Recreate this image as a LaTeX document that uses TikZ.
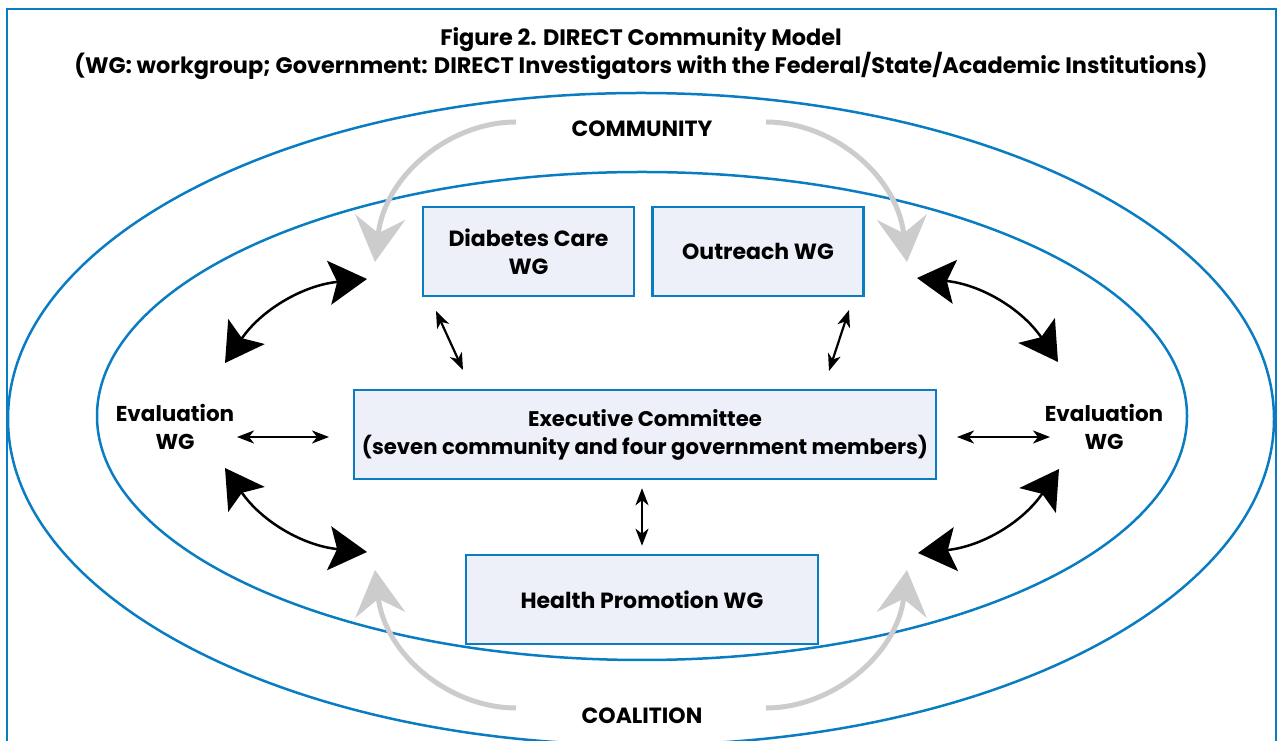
\documentclass[tikz,border=0pt]{standalone}
\usepackage{fontspec}
\setsansfont{Poppins}
\usetikzlibrary{positioning}
\usetikzlibrary{arrows.meta}
\definecolor{ringblue}{RGB}{10,125,194}
\definecolor{wgfill}{RGB}{237,240,248}
\definecolor{flowgray}{RGB}{204,204,204}
\tikzset{every picture/.style={/utils/exec={\sffamily\bfseries}},
  x=1pt, y=1pt,
  every node/.style={align=center,
    font=\fontsize{22}{28}\selectfont},
  ring/.style={draw=ringblue, line width=2.5pt},
  wgbox/.style={ % boxes of the workgroups
    draw=ringblue, line width=2.5pt, fill=wgfill,
    minimum height=89pt, inner sep=0pt},
  link/.style={ % short two-way arrows
    {Stealth[length=17pt,width=13pt,inset=5pt]}-{Stealth[length=17pt,width=13pt,inset=5pt]},
    line width=2.2pt},
  swing/.style={ % big curved two-way arrows
    {Stealth[length=38pt,width=44pt,inset=8pt]}-{Stealth[length=38pt,width=44pt,inset=8pt]},
    line width=2.5pt},
  flow/.style={ % grey arrows coming from community and coalition
    draw=flowgray, line width=5pt,
    -{Stealth[length=45pt,width=50pt,inset=16pt]}}}

\begin{document}
\begin{tikzpicture}
  \useasboundingbox (0,0) rectangle (1278,741);
  \clip (0,0) rectangle (1278,741);

  \draw[ring] (7,732) rectangle (1276,-30);
  \draw[ring] (641,322) ellipse [x radius=633, y radius=326];
  \draw[ring] (642,325) ellipse [x radius=545, y radius=244];

  \node [font=\fontsize{22.4}{28}\selectfont] (title) at (641,687) {Figure 2. DIRECT Community Model\\
    (WG: workgroup; Government: DIRECT Investigators with the Federal/State/Academic Institutions)};

  \node (community) at (642,612) {COMMUNITY};
  \node (coalition) at (642,25) {COALITION};

  \node [wgbox, minimum width=211pt] (dcare) at (528.5,489.5) {Diabetes Care\\WG};
  \node [wgbox, minimum width=211pt, right=16pt of dcare] (outreach) {Outreach WG};
  \node [wgbox, minimum width=582pt, font=\fontsize{21.2}{28}\selectfont] (exec) at (645,306.5) {Executive Committee\\
    (seven community and four government members)};
  \node [wgbox, minimum width=352pt] (health) at (642,141.5) {Health Promotion WG};

  \node [font=\fontsize{21.5}{28}\selectfont] (evalL) at (175,314) {Evaluation\\WG};
  \node [font=\fontsize{21.5}{28}\selectfont] (evalR) at (1104,314) {Evaluation\\WG};

  % ends of the short arrows
  \coordinate (lnkL-a) at (237,304);
  \coordinate (lnkL-b) at (329,304);
  \coordinate (lnkR-a) at (957,304);
  \coordinate (lnkR-b) at (1050,304);
  \coordinate (lnkD-a) at (436,430);
  \coordinate (lnkD-b) at (463,371);
  \coordinate (lnkO-a) at (849,431);
  \coordinate (lnkO-b) at (829,370);

  \draw[link] (lnkL-a) -- (lnkL-b);
  \draw[link] (lnkR-a) -- (lnkR-b);
  \draw[link] (lnkD-a) -- (lnkD-b);
  \draw[link] (lnkO-a) -- (lnkO-b);
  \draw[link, shorten <=8pt, shorten >=8pt] (exec.south -| health.north) -- (health.north);

  % ends of the big curved arrows
  \coordinate (swTL-a) at (225,378);
  \coordinate (swTL-b) at (367,462);
  \coordinate (swTR-a) at (917,463);
  \coordinate (swTR-b) at (1058,379);
  \coordinate (swBL-a) at (225,273);
  \coordinate (swBL-b) at (367,189);
  \coordinate (swBR-a) at (918,188);
  \coordinate (swBR-b) at (1059,272);

  \draw (swTL-a) edge [swing, bend left=25] (swTL-b);
  \draw (swTR-a) edge [swing, bend left=25] (swTR-b);
  \draw (swBL-a) edge [swing, bend right=25] (swBL-b);
  \draw (swBR-a) edge [swing, bend right=25] (swBR-b);

  % grey arrows
  \coordinate (flTL-a) at (516,619);
  \coordinate (flTL-b) at (375,479);
  \coordinate (flTR-a) at (766,619);
  \coordinate (flTR-b) at (907,479);
  \coordinate (flBL-a) at (516,33);
  \coordinate (flBL-b) at (375,171);
  \coordinate (flBR-a) at (766,33);
  \coordinate (flBR-b) at (907,171);

  \draw[flow] (flTL-a) .. controls +(-66,0) and +(10,87) .. (flTL-b);
  \draw[flow] (flTR-a) .. controls +(66,0) and +(-10,87) .. (flTR-b);
  \draw[flow] (flBL-a) .. controls +(-66,0) and +(10,-85) .. (flBL-b);
  \draw[flow] (flBR-a) .. controls +(66,0) and +(-10,-85) .. (flBR-b);
\end{tikzpicture}
\end{document}
